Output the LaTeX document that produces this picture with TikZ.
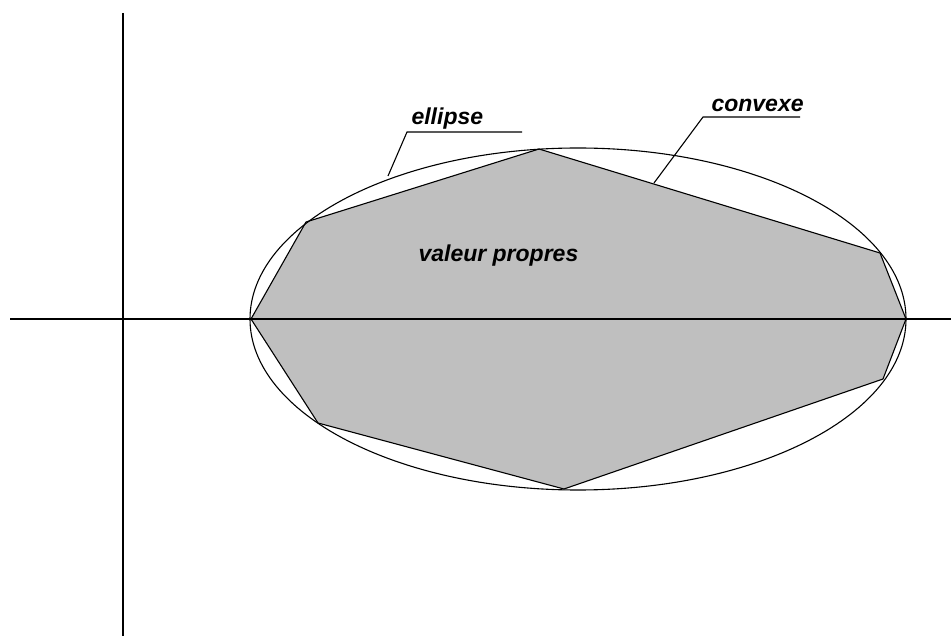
\documentclass[tikz,border=0pt]{standalone}
\usepackage{fontspec}
\setmainfont{Liberation Sans}
\usepackage{tikz}
\usetikzlibrary{positioning, calc}

\begin{document}
\begin{tikzpicture}[x=1pt,y=-1pt,line width=1.1pt]
  \useasboundingbox (0,0) rectangle (951,636);
  % convex set of the eigenvalues
  \coordinate (v1) at (251,319);
  \coordinate (v2) at (306,222);
  \coordinate (v3) at (539,149);
  \coordinate (v4) at (880,253);
  \coordinate (v5) at (906,319);
  \coordinate (v6) at (883,379);
  \coordinate (v7) at (564,489);
  \coordinate (v8) at (318,423);
  \draw[fill=black!25] (v1)--(v2)--(v3)--(v4)--(v5)--(v6)--(v7)--(v8)--cycle;
  \draw (578,319) ellipse [x radius=328, y radius=171];
  % axes
  \draw (10,319)--(951,319);
  \draw (123,13)--(123,636);
  % labels
  \node[font=\fontsize{23}{24}\selectfont\bfseries\itshape,anchor=base west,
        inner sep=0pt] (ell) at (411,125) {ellipse};
  \node[font=\fontsize{23}{24}\selectfont\bfseries\itshape,anchor=base west,
        inner sep=0pt] (cvx) at (711,112) {convexe};
  \node[font=\fontsize{23}{24}\selectfont\bfseries\itshape,anchor=base west,
        inner sep=0pt] (vp) at (418,262) {valeur propres};
  \coordinate (ell-foot) at (388,176);
  \coordinate (ell-knee) at (407,132);
  \coordinate (ell-end) at (522,132);
  \draw (ell-foot)--(ell-knee)--(ell-end);
  \coordinate (cvx-foot) at (654,183);
  \coordinate (cvx-knee) at (703,117);
  \coordinate (cvx-end) at (800,117);
  \draw (cvx-foot)--(cvx-knee)--(cvx-end);
\end{tikzpicture}
\end{document}
